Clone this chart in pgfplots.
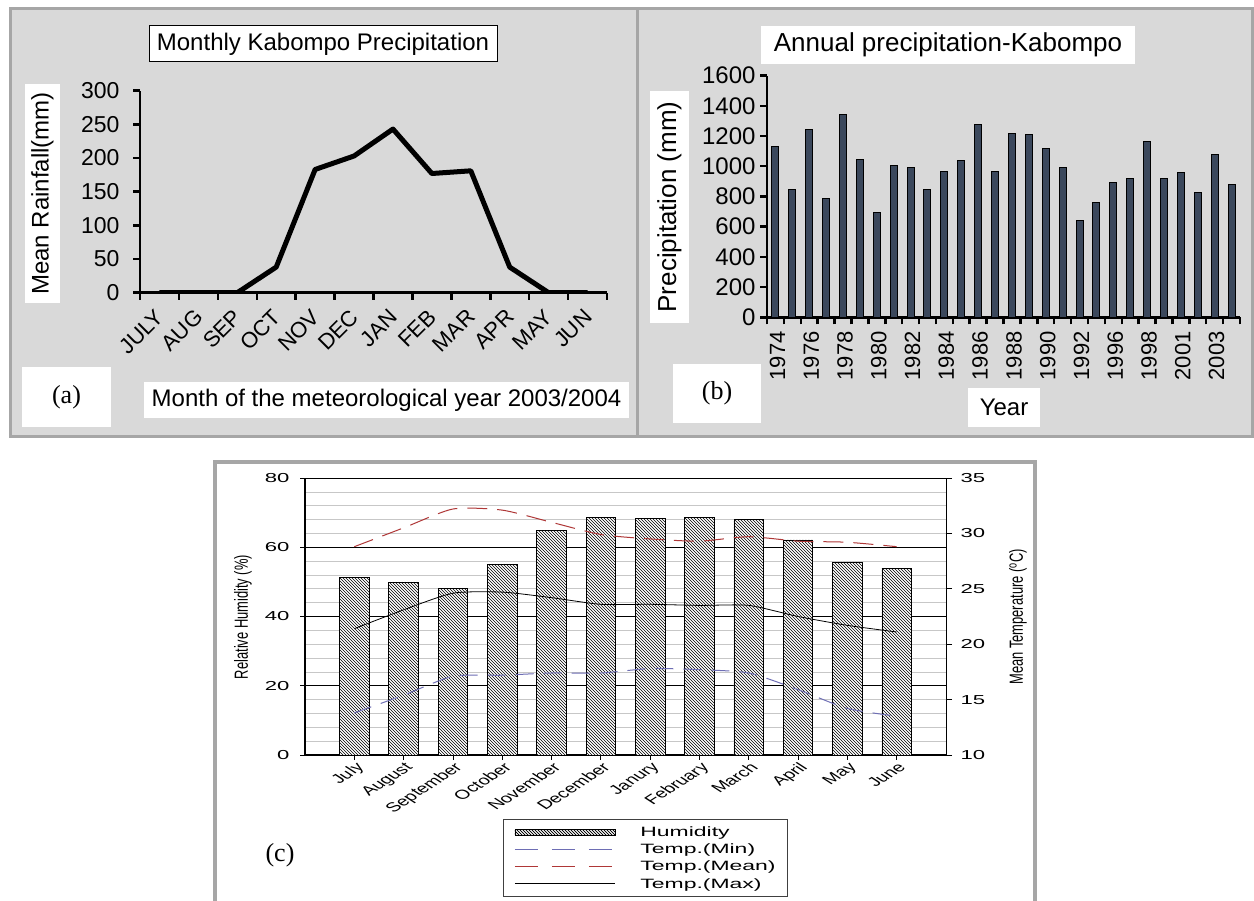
\documentclass[border=0pt]{standalone}
\usepackage{pgfplots}
\pgfplotsset{compat=1.18}
\usepackage{fontspec}
\setmainfont{Liberation Sans}
\newfontfamily\tnr{Liberation Serif}
\newfontfamily\wide[FakeStretch=1.7]{Liberation Sans}
\newfontfamily\tall[FakeStretch=0.68]{Liberation Sans}
\usetikzlibrary{patterns}
\definecolor{panelgray}{RGB}{217,217,217}
\definecolor{bordergray}{RGB}{166,166,166}
\definecolor{barblue}{RGB}{59,72,92}
\definecolor{minblue}{RGB}{110,110,180}
\definecolor{meanred}{RGB}{175,55,55}
\newcommand{\fs}[1]{\fontsize{#1}{#1}\selectfont}
\pgfplotsset{/pgf/number format/assume math mode=true, /pgf/number format/1000 sep={}}
\begin{document}
\begin{tikzpicture}
\path[use as bounding box] (0pt,0pt) rectangle (1254pt,901pt);
% panel backgrounds
\draw[fill=panelgray, draw=bordergray, line width=3pt] (10pt,464pt) rectangle (637pt,892pt);
\draw[fill=panelgray, draw=bordergray, line width=3pt] (637pt,464pt) rectangle (1252pt,892pt);
\draw[fill=white, draw=bordergray, line width=4pt] (215pt,439pt) rectangle (1035pt,-10pt);

% ---------- panel (a)
\begin{axis}[at={(140pt,608.3pt)}, anchor=south west, scale only axis,
  width=467pt, height=202pt,
  xmin=-0.5, xmax=11.5, ymin=0, ymax=300,
  axis lines=left, axis line style={-, line width=2.5pt},
  tick align=outside, major tick length=7pt,
  tick style={black, line width=2.5pt},
  ytick={0,50,...,300},
  yticklabel style={font=\fs{23}, xshift=-10pt},
  xtick={-0.5,0.5,...,11.5}, xticklabels={},
  extra x ticks={0,1,...,11},
  extra x tick labels={JULY,AUG,SEP,OCT,NOV,DEC,JAN,FEB,MAR,APR,MAY,JUN},
  extra x tick style={major tick length=0pt,
    xticklabel style={font=\fs{22}, xshift=-5pt, yshift=-15pt, rotate=45, anchor=north east, inner sep=0pt}},
]
\addplot[black, line width=5pt, line join=round] coordinates {
(0,0) (1,0) (2,0) (3,38) (4,183) (5,203) (6,243) (7,177) (8,181) (9,38) (10,0) (11,0)};
\end{axis}

\node[draw=black, line width=1pt, fill=white, minimum width=348pt, minimum height=36pt, inner sep=0pt, font=\fs{24}] at (323pt,857pt) {Monthly Kabompo Precipitation};
\node[fill=white, rotate=90, minimum width=219pt, minimum height=35pt, inner sep=0pt, font=\fs{24}] at (42.5pt,707.5pt) {Mean Rainfall(mm)};
\node[fill=white, minimum width=89pt, minimum height=60pt, inner sep=0pt, font=\tnr\fs{26}] at (66.5pt,504pt) {(a)};
\node[fill=white, minimum width=485pt, minimum height=36pt, inner sep=0pt, font=\fs{24}] at (386.5pt,501pt) {Month of the meteorological year 2003/2004};

% ---------- panel (b)
\begin{axis}[at={(767pt,583.7pt)}, anchor=south west, scale only axis,
  width=473pt, height=241.7pt,
  xmin=-0.5, xmax=27.5, ymin=0, ymax=1600,
  axis lines=left, axis line style={-, line width=2.5pt},
  tick align=outside, major tick length=7pt,
  tick style={black, line width=2.5pt},
  ytick={0,200,...,1600},
  yticklabel style={font=\fs{24}, xshift=-1pt},
  xtick={-0.5,0.5,...,27.5}, xticklabels={},
  extra x ticks={0,2,...,26},
  extra x tick labels={1974,1976,1978,1980,1982,1984,1986,1988,1990,1992,1996,1998,2001,2003},
  extra x tick style={major tick length=0pt,
    xticklabel style={font=\fs{22}, xshift=2pt, yshift=-14pt, rotate=90, anchor=east, inner sep=0pt}},
]
\addplot[ybar, bar width=7pt, fill=barblue, draw=black, line width=1pt] coordinates {
(0,1131) (1,849) (2,1243) (3,788) (4,1340) (5,1045) (6,695) (7,1003) (8,994) (9,849)
(10,964) (11,1038) (12,1276) (13,964) (14,1214) (15,1210) (16,1120) (17,994) (18,640) (19,761)
(20,889) (21,917) (22,1166) (23,922) (24,961) (25,823) (26,1076) (27,882)};
\end{axis}

\node[fill=white, minimum width=374pt, minimum height=38pt, inner sep=0pt, font=\fs{26}] at (948pt,856pt) {Annual precipitation-Kabompo};
\node[fill=white, rotate=90, minimum width=232pt, minimum height=39pt, inner sep=0pt, font=\fs{26}] at (669.5pt,694pt) {Precipitation (mm)};
\node[fill=white, minimum width=88pt, minimum height=59pt, inner sep=0pt, font=\tnr\fs{26}] at (717pt,507.5pt) {(b)};
\node[fill=white, minimum width=72pt, minimum height=39pt, inner sep=0pt, font=\fs{24}] at (1004pt,493.5pt) {Year};

% ---------- panel (c)
\begin{axis}[at={(305pt,146pt)}, anchor=south west, scale only axis,
  width=641pt, height=277pt,
  xmin=-1, xmax=12, ymin=0, ymax=80,
  axis x line*=bottom, axis y line*=left,
  x axis line style={-, line width=1.2pt},
  y axis line style={-, line width=2pt},
  ytick={0,20,...,80}, minor ytick={4,8,...,76},
  ymajorgrids, yminorgrids,
  major grid style={black, line width=0.6pt},
  minor grid style={black!22, line width=0.6pt},
  xtick={0,1,...,11},
  xticklabels={July,August,September,October,November,December,Janury,February,March,April,May,June},
  tick align=outside, major tick length=5pt, minor tick length=0pt,
  tick style={black, line width=0.8pt},
  xticklabel style={font=\fs{13}, xscale=1.55, rotate=45, anchor=north east, inner sep=1pt},
  yticklabel style={font=\wide\fs{13}, xshift=-7pt},
  legend style={at={(0.309,-0.231)}, anchor=north west, draw=black!75, line width=0.8pt,
    font=\wide\fs{13.5}, /tikz/row sep=4pt, /tikz/column sep=24pt,
    inner xsep=11pt, inner ysep=6pt,
    nodes={inner sep=1pt}},
  legend cell align=left,
]
\addplot[ybar, bar width=0.6, fill=white, draw=black, line width=0.8pt,
  postaction={pattern=north west lines},
  legend image code/.code={\draw[fill=white, line width=0.8pt, postaction={pattern=north west lines}] (0pt,-3pt) rectangle (100pt,3pt);}]
coordinates {(0,51.4) (1,49.9) (2,48.0) (3,55.0) (4,64.8) (5,68.5) (6,68.2) (7,68.7) (8,67.9) (9,62.1) (10,55.5) (11,54.0)};
\addlegendentry{Humidity}
\addlegendimage{legend image code/.code={\draw[minblue, line width=1pt, dash pattern=on 23pt off 14pt] (0pt,0pt) -- (97pt,0pt);}}
\addlegendentry{Temp.(Min)}
\addlegendimage{legend image code/.code={\draw[meanred, line width=1pt, dash pattern=on 23pt off 14pt] (0pt,0pt) -- (97pt,0pt);}}
\addlegendentry{Temp.(Mean)}
\addlegendimage{legend image code/.code={\draw[black, line width=0.8pt] (0pt,0pt) -- (100pt,0pt);}}
\addlegendentry{Temp.(Max)}
\end{axis}

\begin{axis}[at={(305pt,146pt)}, anchor=south west, scale only axis,
  width=641pt, height=277pt,
  xmin=-1, xmax=12, ymin=10, ymax=35,
  axis x line=none, axis y line*=right,
  y axis line style={-, line width=1pt},
  ytick={10,15,...,35},
  tick align=outside, major tick length=6pt,
  tick style={black, line width=0.8pt},
  yticklabel style={font=\wide\fs{13}, xshift=5pt},
]
\addplot[minblue, line width=1pt, dash pattern=on 18pt off 10pt, smooth, tension=0.4] coordinates {
(0,13.8) (1,15.4) (2,17.1) (3,17.2) (4,17.4) (5,17.4) (6,17.8) (7,17.7) (8,17.4) (9,15.9) (10,14.2) (11,13.5)};
\addplot[meanred, line width=1pt, dash pattern=on 20pt off 10pt, smooth, tension=0.4] coordinates {
(0,28.8) (1,30.5) (2,32.2) (3,32.1) (4,31.0) (5,29.9) (6,29.5) (7,29.3) (8,29.7) (9,29.3) (10,29.2) (11,28.8)};
\addplot[black, line width=0.8pt, smooth, tension=0.4] coordinates {
(0,21.4) (1,23.1) (2,24.6) (3,24.7) (4,24.2) (5,23.6) (6,23.6) (7,23.5) (8,23.5) (9,22.5) (10,21.7) (11,21.1)};
\end{axis}

\node[rotate=90, font=\tall\fs{19}] at (243pt,284pt) {Relative Humidity (\%)};
\node[rotate=90, font=\tall\fs{19}] at (1018pt,284pt) {Mean Temperature (\textsuperscript{o}C)};
\node[font=\tnr\fs{26}] at (280pt,46pt) {(c)};
\end{tikzpicture}
\end{document}
